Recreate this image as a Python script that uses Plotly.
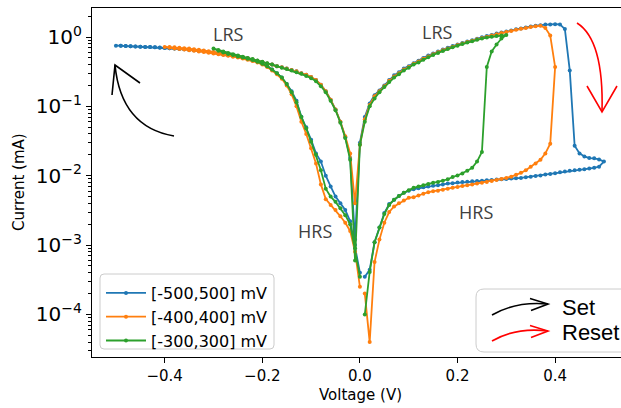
import plotly.graph_objects as go

# ---------------- data (voltage sweeps in mV, currents in mA) ----------------
SWEEP_NEG_OUT_MV = [0, -10, -20, -30, -40, -50, -60, -70, -80, -90, -100, -110, -120, -130, -140, -150,
                    -160, -170, -180, -190, -200, -210, -220, -230, -240, -250, -260, -270, -280, -290,
                    -300, -310, -320, -330, -340, -350, -360, -370, -380, -390, -400, -410, -420, -430,
                    -440, -450, -460, -470, -480, -490, -500]
SWEEP_NEG_BACK_MV = [-490, -480, -470, -460, -450, -440, -430, -420, -410, -400, -390, -380, -370, -360,
                     -350, -340, -330, -320, -310, -300, -290, -280, -270, -260, -250, -240, -230, -220,
                     -210, -200, -190, -180, -170, -160, -150, -140, -130, -120, -110, -100, -90, -80,
                     -70, -60, -50, -40, -30, -20, -10]
SWEEP_POS_OUT_MV = [0, 10, 20, 30, 40, 50, 60, 70, 80, 90, 100, 110, 120, 130, 140, 150, 160, 170, 180,
                    190, 200, 210, 220, 230, 240, 250, 260, 270, 280, 290, 300, 310, 320, 330, 340, 350,
                    360, 370, 380, 390, 400, 410, 420, 430, 440, 450, 460, 470, 480, 490, 500]
SWEEP_POS_BACK_MV = [490, 480, 470, 460, 450, 440, 430, 420, 410, 400, 390, 380, 370, 360, 350, 340, 330,
                     320, 310, 300, 290, 280, 270, 260, 250, 240, 230, 220, 210, 200, 190, 180, 170, 160,
                     150, 140, 130, 120, 110, 100, 90, 80, 70, 60, 50, 40, 30, 20, 10]

# [-500,500] mV
I500_NEG_OUT = [4.0e-4, 1.0e-3, 2.2e-3, 3.2e-3, 4.0e-3, 5.0e-3, 7.0e-3, 0.010, 0.016, 0.021, 0.033,
                0.050, 0.071, 0.12, 0.165, 0.21, 0.26, 0.30, 0.34, 0.38, 0.41, 0.44, 0.46, 0.48, 0.50,
                0.515, 0.53, 0.545, 0.56, 0.58, 0.60, 0.61, 0.625, 0.635, 0.645, 0.655, 0.665, 0.675,
                0.685, 0.69, 0.695, 0.70, 0.71, 0.715, 0.72, 0.725, 0.73, 0.735, 0.74, 0.745, 0.75]
I500_NEG_BACK = [0.745, 0.74, 0.735, 0.73, 0.725, 0.72, 0.715, 0.71, 0.705, 0.70, 0.69, 0.685, 0.675,
                 0.665, 0.655, 0.645, 0.635, 0.625, 0.61, 0.60, 0.585, 0.57, 0.555, 0.54, 0.525, 0.51,
                 0.495, 0.475, 0.455, 0.435, 0.415, 0.40, 0.38, 0.365, 0.35, 0.335, 0.32, 0.30, 0.285,
                 0.265, 0.24, 0.205, 0.165, 0.125, 0.09, 0.06, 0.036, 0.018, 0.0012]
I500_POS_OUT = [0.03, 0.07, 0.11, 0.145, 0.17, 0.20, 0.24, 0.28, 0.31, 0.35, 0.38, 0.42, 0.455, 0.50,
                0.54, 0.58, 0.62, 0.66, 0.70, 0.74, 0.78, 0.82, 0.86, 0.90, 0.94, 0.99, 1.03, 1.07, 1.12,
                1.16, 1.20, 1.24, 1.29, 1.33, 1.37, 1.42, 1.45, 1.48, 1.51, 1.52, 1.53, 1.52, 1.30, 0.33,
                0.027, 0.021, 0.019, 0.018, 0.0178, 0.0172, 0.016]
I500_POS_BACK = [0.0135, 0.013, 0.0127, 0.0124, 0.0122, 0.012, 0.0118, 0.0115, 0.0112, 0.0109, 0.0106,
                 0.0104, 0.0101, 0.0099, 0.0097, 0.0095, 0.0093, 0.0092, 0.0091, 0.009, 0.0089, 0.0088,
                 0.0087, 0.0086, 0.0085, 0.0084, 0.0083, 0.0082, 0.0081, 0.008, 0.0078, 0.0077, 0.0075,
                 0.0073, 0.0072, 0.007, 0.0068, 0.0066, 0.0064, 0.0061, 0.0057, 0.0051, 0.0045, 0.0039,
                 0.0029, 0.0018, 0.0011, 0.00044, 0.00035]

# [-400,400] mV
I400_NEG_OUT = [2.5e-4, 8e-4, 1.6e-3, 2.1e-3, 2.6e-3, 3.2e-3, 3.8e-3, 4.6e-3, 7.5e-3, 0.015, 0.025, 0.040,
                0.060, 0.10, 0.15, 0.20, 0.25, 0.29, 0.33, 0.37, 0.40, 0.43, 0.45, 0.47, 0.49, 0.505,
                0.52, 0.535, 0.55, 0.565, 0.58, 0.595, 0.61, 0.62, 0.635, 0.645, 0.66, 0.67, 0.685, 0.70,
                0.72]
I400_NEG_BACK = [0.715, 0.71, 0.70, 0.69, 0.68, 0.665, 0.655, 0.64, 0.625, 0.61, 0.595, 0.58, 0.565,
                 0.545, 0.53, 0.51, 0.495, 0.475, 0.455, 0.435, 0.415, 0.40, 0.38, 0.365, 0.35, 0.335,
                 0.32, 0.30, 0.285, 0.265, 0.24, 0.205, 0.165, 0.125, 0.09, 0.06, 0.037, 0.021, 0.004]
I400_POS_OUT = [0.028, 0.065, 0.105, 0.14, 0.165, 0.195, 0.235, 0.27, 0.30, 0.34, 0.37, 0.41, 0.445,
                0.485, 0.525, 0.565, 0.605, 0.645, 0.685, 0.725, 0.765, 0.805, 0.845, 0.885, 0.925, 0.97,
                1.01, 1.05, 1.10, 1.14, 1.18, 1.22, 1.27, 1.31, 1.35, 1.39, 1.43, 1.45, 1.35, 1.05, 0.37]
I400_POS_BACK = [0.029, 0.021, 0.017, 0.015, 0.0135, 0.012, 0.011, 0.0103, 0.0097, 0.0093, 0.009,
                 0.0087, 0.0084, 0.0081, 0.0079, 0.0077, 0.0075, 0.0073, 0.0071, 0.0069, 0.0067, 0.0065,
                 0.0063, 0.0061, 0.006, 0.0058, 0.0055, 0.0052, 0.0049, 0.0048, 0.0044, 0.004, 0.0036,
                 0.003, 0.0021, 0.0012, 0.00057, 0.00004, 0.0002]

# [-300,300] mV
I300_NEG_OUT = [3.5e-4, 9e-4, 2.0e-3, 2.7e-3, 3.4e-3, 4.2e-3, 5.0e-3, 6.5e-3, 0.012, 0.020, 0.031, 0.048,
                0.070, 0.115, 0.16, 0.21, 0.26, 0.30, 0.34, 0.38, 0.41, 0.44, 0.465, 0.485, 0.505, 0.525,
                0.55, 0.57, 0.60, 0.635, 0.68]
I300_NEG_BACK = [0.65, 0.62, 0.59, 0.565, 0.54, 0.52, 0.50, 0.48, 0.46, 0.44, 0.42, 0.40, 0.38, 0.36,
                 0.345, 0.33, 0.31, 0.295, 0.275, 0.255, 0.23, 0.195, 0.16, 0.12, 0.088, 0.058, 0.035,
                 0.017, 0.0006]
I300_POS_OUT = [0.028, 0.06, 0.10, 0.13, 0.16, 0.19, 0.225, 0.26, 0.29, 0.33, 0.36, 0.40, 0.43, 0.47,
                0.51, 0.55, 0.59, 0.63, 0.67, 0.71, 0.75, 0.79, 0.83, 0.87, 0.91, 0.95, 0.98, 1.01, 1.03,
                1.05, 1.07]
I300_POS_BACK = [0.95, 0.78, 0.62, 0.37, 0.022, 0.016, 0.013, 0.0118, 0.0108, 0.0101, 0.0096, 0.0089,
                 0.0085, 0.0081, 0.0079, 0.0076, 0.0073, 0.007, 0.0067, 0.0062, 0.0057, 0.0051, 0.0045,
                 0.0038, 0.0028, 0.0018, 0.0011, 0.00041, 0.0001]

SERIES_NAMES = ["[-500,500] mV", "[-400,400] mV", "[-300,300] mV"]
SERIES_COLORS = ["#1f77b4", "#ff7f0e", "#2ca02c"]
SERIES_CURRENTS = [
    (I500_NEG_OUT, I500_NEG_BACK, I500_POS_OUT, I500_POS_BACK),
    (I400_NEG_OUT, I400_NEG_BACK, I400_POS_OUT, I400_POS_BACK),
    (I300_NEG_OUT, I300_NEG_BACK, I300_POS_OUT, I300_POS_BACK),
]

X_TICKS = [-0.4, -0.2, 0.0, 0.2, 0.4]
X_TICK_TEXT = ["\u22120.4", "\u22120.2", "0.0", "0.2", "0.4"]
Y_TICKS = [1e-4, 1e-3, 1e-2, 1e-1, 1]
Y_TICK_TEXT = ["10<sup>\u22124</sup>", "10<sup>\u22123</sup>", "10<sup>\u22122</sup>",
               "10<sup>\u22121</sup>", "10<sup>0</sup>"]


def build_loop(neg_out, neg_back, pos_out, pos_back):
    v = (SWEEP_NEG_OUT_MV[:len(neg_out)] + SWEEP_NEG_BACK_MV[-len(neg_back):]
         + SWEEP_POS_OUT_MV[:len(pos_out)] + SWEEP_POS_BACK_MV[-len(pos_back):])
    i = list(neg_out) + list(neg_back) + list(pos_out) + list(pos_back)
    return [x / 1000.0 for x in v], i


fig = go.Figure()
for name, color, segs in zip(SERIES_NAMES, SERIES_COLORS, SERIES_CURRENTS):
    v, i = build_loop(*segs)
    fig.add_trace(go.Scatter(x=v, y=i, mode="lines+markers", name=name,
                             line=dict(color=color, width=1.8),
                             marker=dict(color=color, size=4, symbol="circle")))

# ---------------- layout helpers (pixel -> paper) ----------------
L, R, T, B = 92, 621, 8, 357


def px(x):
    return (x - L) / (R - L)


def py(y):
    return (B - y) / (B - T)


def rrect(x0, y0, x1, y1, r):
    rx, ry = r / (R - L), r / (B - T)
    X0, X1, Y0, Y1 = px(x0), px(x1), py(y1), py(y0)
    return (f"M {X0+rx},{Y0} L {X1-rx},{Y0} Q {X1},{Y0} {X1},{Y0+ry} L {X1},{Y1-ry} "
            f"Q {X1},{Y1} {X1-rx},{Y1} L {X0+rx},{Y1} Q {X0},{Y1} {X0},{Y1-ry} "
            f"L {X0},{Y0+ry} Q {X0},{Y0} {X0+rx},{Y0} Z")


def qcurve(p0, c, p1):
    return f"M {px(p0[0])},{py(p0[1])} Q {px(c[0])},{py(c[1])} {px(p1[0])},{py(p1[1])}"


def poly(pts):
    return "M " + " L ".join(f"{px(a)},{py(b)}" for a, b in pts)


shapes = []
# legend frame and Set/Reset box
shapes.append(dict(type="path", xref="paper", yref="paper", path=rrect(100, 274, 274, 349, 4),
                   line=dict(color="#cccccc", width=1), fillcolor="rgba(255,255,255,0.8)", layer="above"))
shapes.append(dict(type="path", xref="paper", yref="paper", path=rrect(476, 289, 634, 352, 8),
                   line=dict(color="#cccccc", width=1), fillcolor="rgba(255,255,255,0.8)", layer="above"))

ARROWS = [
    ("black", (174, 136), (121, 127), (115, 65), [(140, 83), (115, 65), (112, 95)]),
    ("red", (577, 23), (604, 40), (602, 112), [(587, 86), (602, 112), (617, 86)]),
    ("black", (492, 315), (516, 301), (548, 304), [(530, 298.5), (548, 304), (531, 310.5)]),
    ("red", (492, 341), (516, 327), (548, 331), [(530, 325.5), (548, 331), (531, 337.5)]),
]
for color, p0, c, p1, head in ARROWS:
    shapes.append(dict(type="path", xref="paper", yref="paper", path=qcurve(p0, c, p1),
                       line=dict(color=color, width=1.6), fillcolor="rgba(0,0,0,0)", layer="above"))
    shapes.append(dict(type="path", xref="paper", yref="paper", path=poly(head),
                       line=dict(color=color, width=1.6), fillcolor="rgba(0,0,0,0)", layer="above"))

annotations = []
STATE_FONT = dict(family="Open Sans", size=18, color="#404040")
for text, xx, yy in [("LRS", 228, 34), ("LRS", 437, 32), ("HRS", 315, 231), ("HRS", 476, 212)]:
    annotations.append(dict(text=text, x=px(xx), y=py(yy), xref="paper", yref="paper",
                            showarrow=False, xanchor="center", yanchor="middle", font=STATE_FONT))
for text, yy in [("Set", 307), ("Reset", 332)]:
    annotations.append(dict(text=text, x=px(560), y=py(yy), xref="paper", yref="paper",
                            showarrow=False, xanchor="left", yanchor="middle",
                            font=dict(family="Liberation Sans", size=22, color="black")))
annotations.append(dict(text="Voltage (V)", x=px(360), y=py(395), xref="paper", yref="paper",
                        showarrow=False, xanchor="center", yanchor="middle",
                        font=dict(family="DejaVu Sans", size=15, color="black")))
annotations.append(dict(text="Current (mA)", x=px(19), y=py(182), xref="paper", yref="paper",
                        showarrow=False, xanchor="center", yanchor="middle", textangle=-90,
                        font=dict(family="DejaVu Sans", size=15, color="black")))

minor_vals = [k * 10.0 ** e for e in range(-5, 1) for k in range(2, 10)]

fig.update_layout(
    width=621, height=408,
    margin=dict(l=L, r=621 - R, t=T, b=408 - B),
    paper_bgcolor="white", plot_bgcolor="white",
    font=dict(family="DejaVu Sans", color="black"),
    showlegend=True,
    legend=dict(x=px(101), y=py(276), xanchor="left", yanchor="top",
                bgcolor="rgba(0,0,0,0)", borderwidth=0,
                font=dict(family="DejaVu Sans", size=16, color="black"),
                itemwidth=40, tracegroupgap=0),
    shapes=shapes,
    annotations=annotations,
    xaxis=dict(range=[-0.549, 0.535], showgrid=False, zeroline=False,
               showline=True, linecolor="black", linewidth=1.3, mirror=True,
               ticks="outside", ticklen=5, tickwidth=1.2, tickcolor="black",
               tickvals=X_TICKS, ticktext=X_TICK_TEXT,
               tickfont=dict(family="DejaVu Sans", size=15, color="black")),
    yaxis=dict(type="log", range=[-4.613, 0.418], showgrid=False, zeroline=False,
               showline=True, linecolor="black", linewidth=1.3, mirror=False,
               ticks="outside", ticklen=5, tickwidth=1.2, tickcolor="black",
               tickvals=Y_TICKS, ticktext=Y_TICK_TEXT,
               tickfont=dict(family="DejaVu Sans", size=20, color="black"),
               minor=dict(ticks="outside", ticklen=3, tickwidth=0.9, tickcolor="black",
                          tickvals=minor_vals, showgrid=False)),
)

fig.write_html("out.html")
